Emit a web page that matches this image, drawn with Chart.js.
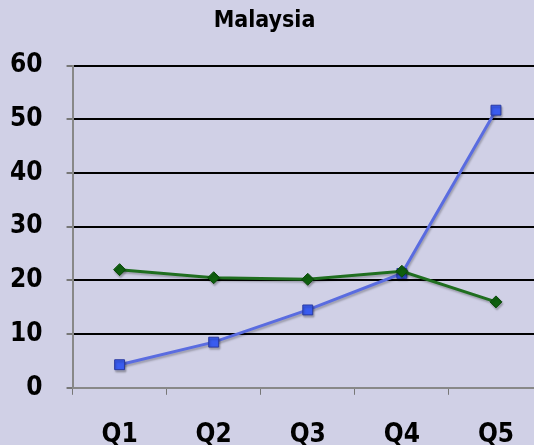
<!DOCTYPE html>
<html>
<head>
<meta charset="utf-8">
<script src="https://cdn.jsdelivr.net/npm/chart.js@4"></script>
<style>
  html, body { margin: 0; padding: 0; background: #d0d0e6; overflow: hidden; }
  #wrap { width: 560px; height: 476px; }
</style>
</head>
<body>
<div id="wrap"><canvas id="malaysiaChart"></canvas></div>
<script>
// Malaysia quarterly
const quarters = ["Q1", "Q2", "Q3", "Q4", "Q5"];
const greenValues = [22, 20.5, 20.2, 21.7, 16];
const blueValues = [4.3, 8.5, 14.5, 21.3, 51.7];
const yTicks = [0, 10, 20, 30, 40, 50, 60];

const labelFont = {family: "'DejaVu Sans Condensed', 'DejaVu Sans', sans-serif", weight: "bold", size: 26};

// soft drop shadow under the lines
const lineShadow = {
  id: "lineShadow",
  beforeDatasetsDraw(chart) {
    const c = chart.ctx;
    c.save();
    c.shadowColor = "rgba(0,0,0,0.25)";
    c.shadowBlur = 2;
    c.shadowOffsetX = 1;
    c.shadowOffsetY = 2;
  },
  afterDatasetsDraw(chart) {
    chart.ctx.restore();
  }
};

new Chart("malaysiaChart", {
  type: "line",
  data: {
    labels: quarters,
    datasets: [{
      data: greenValues,
      borderColor: "#1f6e1f",
      borderWidth: 3,
      pointStyle: "rectRot",
      pointRadius: 6,
      pointBackgroundColor: "#0f5f0f",
      pointBorderColor: "#0a4a0a",
      pointBorderWidth: 1
    }, {
      data: blueValues,
      borderColor: "#5a6ce0",
      borderWidth: 3,
      pointStyle: "rect",
      pointRadius: 7,
      pointBackgroundColor: "#3a5cf0",
      pointBorderColor: "#2a3aa0",
      pointBorderWidth: 1
    }]
  },
  options: {
    responsive: true,
    maintainAspectRatio: false,
    animation: false,
    layout: {padding: {left: -14, right: 17, top: 1, bottom: 0}},
    plugins: {
      legend: {display: false},
      tooltip: {enabled: false},
      title: {
        display: true,
        text: "Malaysia",
        color: "#000",
        font: {family: labelFont.family, weight: "bold", size: 23},
        padding: {top: 6, bottom: 31}
      }
    },
    scales: {
      x: {
        offset: true,
        grid: {
          offset: true,
          drawOnChartArea: false,
          drawTicks: true,
          tickLength: 7,
          tickColor: "#777",
          tickWidth: 1
        },
        border: {color: "#888", width: 2},
        ticks: {color: "#000", font: labelFont, padding: 25}
      },
      y: {
        min: 0,
        max: 60,
        afterBuildTicks: axis => { axis.ticks = yTicks.map(v => ({value: v})); },
        grid: {
          color: ctx => ctx.tick && ctx.tick.value === 0 ? "#888" : "#000",
          lineWidth: 2,
          tickLength: 6,
          tickColor: "#777"
        },
        border: {color: "#888", width: 2},
        ticks: {color: "#000", font: labelFont, padding: 24}
      }
    }
  },
  plugins: [lineShadow]
});
</script>
</body>
</html>
